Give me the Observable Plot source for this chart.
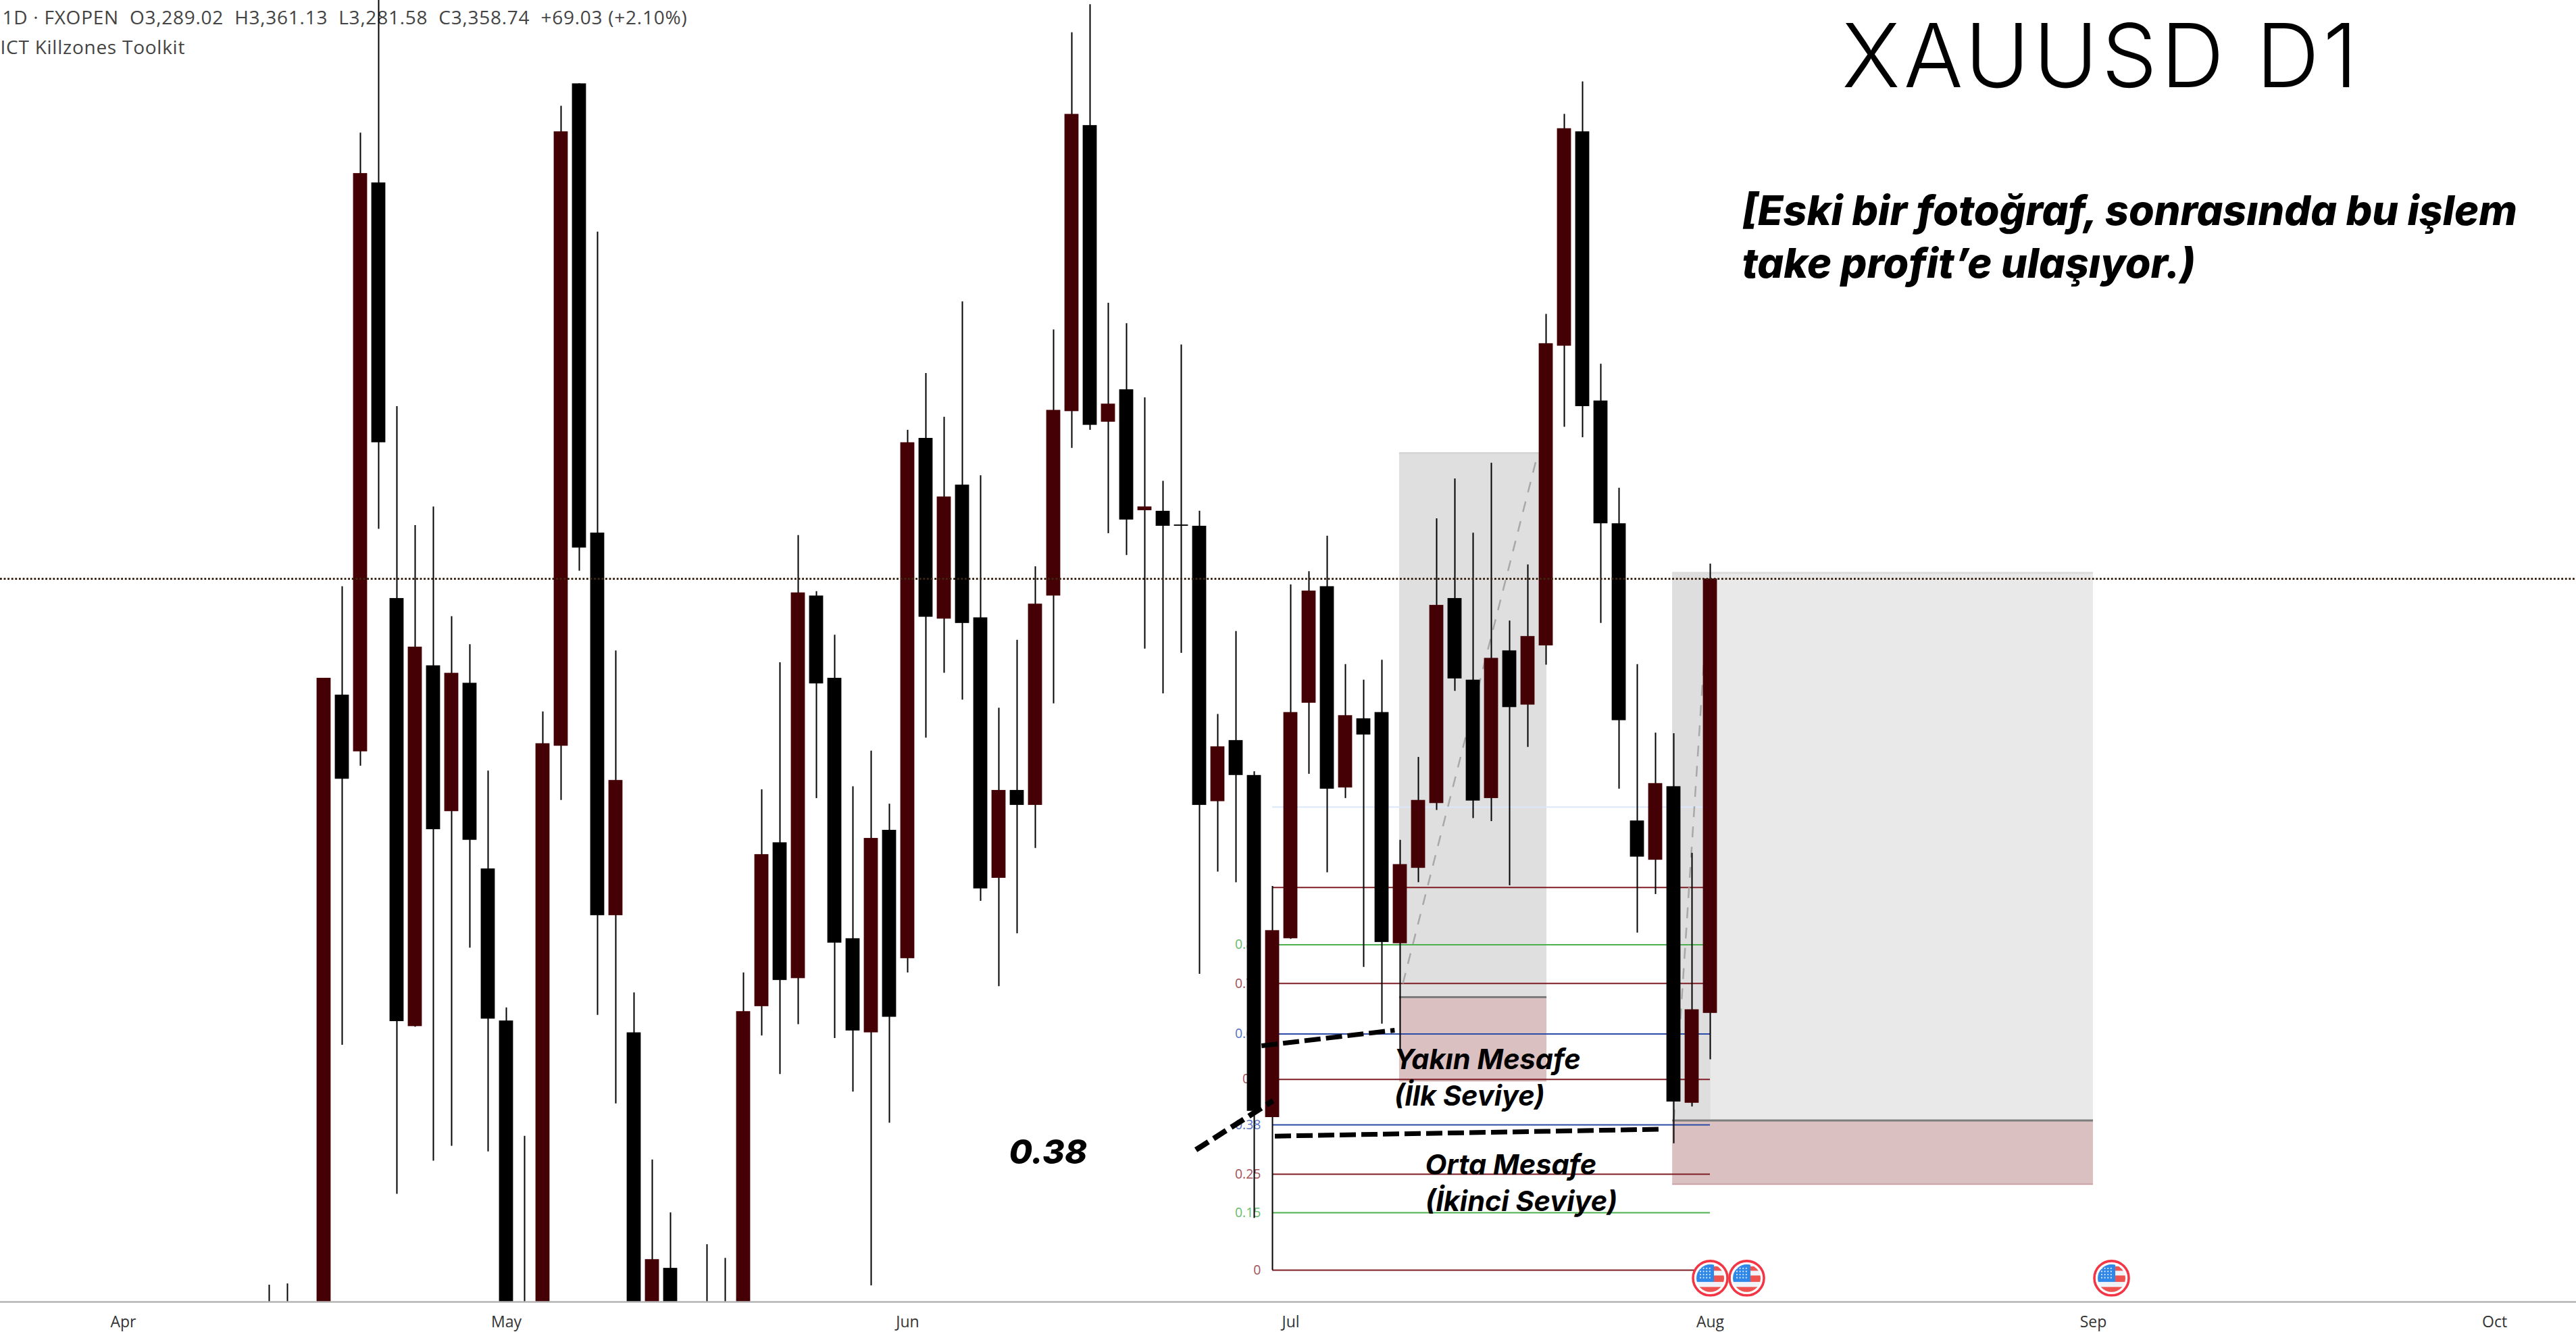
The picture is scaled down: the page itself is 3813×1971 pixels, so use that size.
<!DOCTYPE html>
<html>
<head>
<meta charset="utf-8">
<style>html,body{margin:0;padding:0;background:#fff;overflow:hidden}svg{display:block}
.head-text{letter-spacing:0.75px}.title-text{letter-spacing:5.5px}</style>
<script src="https://cdn.jsdelivr.net/npm/d3@7"></script>
<script src="https://cdn.jsdelivr.net/npm/@observablehq/plot@0.6"></script>
</head>
<body>
<div id="chart"></div>
<script>
// Trading-day number counted from 1 April (weekends and closed days do not take a slot)
const days = [8,9,11,12,13,14,15,16,17,18,19,20,21,22,23,24,25,26,27,28,29,30,32,33,34,35,36,37,38,39,40,41,42,43,44,45,46,47,48,49,50,51,52,53,54,55,56,57,58,59,60,61,62,63,64,65,66,67,68,69,70,71,72,73,74,75,76,77,78,79,80,81,82,83,84,85,86,87];
const open = [3240,3238,3235,3340.1,3331.0,3422.3,3355.6,3286.9,3344.8,3321.4,3342.0,3312.2,3287.8,3241,3238,3331.9,3438.2,3366.1,3304.7,3285.9,3240,3248.1,3241,3241,3240,3290.1,3316.4,3294.6,3356.0,3342.8,3301.0,3285.9,3318.4,3297.8,3381.3,3352.3,3373.8,3352.5,3310.7,3324.8,3322.4,3356.0,3385.6,3431.5,3383.9,3389.1,3369.7,3369.6,3367.4,3367.2,3323.0,3332.8,3327.2,3272.3,3301.0,3338.8,3357.5,3325.2,3336.3,3337.3,3300.2,3312.3,3322.7,3355.6,3342.5,3323.5,3347.2,3338.5,3348.0,3396.1,3430.5,3387.3,3367.6,3319.9,3313.6,3325.4,3274.6,3289.02];
const high = [3245.4,3245.6,3342.8,3357.5,3430.3,3456,3386.4,3367.3,3370.3,3352.7,3348.2,3327.9,3289.9,3269.3,3337.4,3434.6,3438.2,3414.4,3347.2,3292.3,3265.5,3257.0,3251.9,3249.7,3295.5,3324.9,3345.3,3365.7,3356.7,3349.7,3325.4,3331.1,3322.6,3382.6,3391.7,3384.7,3403.2,3375.3,3338.0,3348.9,3360.7,3398.7,3446.4,3450.9,3403.0,3399.7,3387.8,3374.4,3396.3,3369.6,3337.0,3350.3,3327.8,3309.4,3357.8,3359.9,3365.6,3345.0,3342.5,3345.7,3316.8,3330.1,3368.4,3374.8,3366.1,3377.3,3352.0,3361.0,3401.2,3433.3,3438.5,3393.2,3373.3,3345.0,3334.0,3333.9,3314.7,3361.13];
const low = [3230,3230,3230,3283.9,3328.7,3366.7,3260.0,3286.8,3265.3,3267.7,3299.5,3266.8,3236,3236,3235,3323.2,3360.0,3288.7,3274.5,3236,3237,3234,3237,3237,3236,3285.4,3279.2,3287.2,3323.5,3285.0,3276.4,3245.3,3271.4,3295.5,3333.2,3343.6,3339.3,3307.0,3293.3,3301.8,3315.5,3338.7,3379.7,3382.6,3366.0,3362.5,3347.5,3340.3,3346.8,3295.3,3311.7,3310.0,3256.1,3247.8,3300.9,3327.4,3311.6,3323.5,3296.4,3287.3,3283.1,3310.0,3321.6,3340.7,3320.3,3319.8,3309.5,3331.7,3344.9,3383.1,3381.4,3351.6,3325.0,3301.9,3308.1,3268.1,3274.0,3281.58];
const close = [3235,3234,3342.8,3326.6,3423.8,3380.6,3287.7,3347.8,3318.5,3343.6,3316.8,3288.1,3240,3239,3332.3,3430.5,3363.7,3304.7,3326.4,3240,3249.5,3238,3239,3239,3289.3,3314.5,3294.3,3356.5,3341.9,3300.3,3286.2,3317.1,3288.4,3380.6,3352.6,3371.9,3351.6,3309.0,3324.8,3322.4,3354.7,3385.8,3433.3,3383.4,3386.8,3368.2,3370.3,3367.2,3367.2,3322.4,3331.8,3327.2,3273.3,3302.3,3337.3,3356.8,3325.0,3336.8,3333.7,3300.4,3312.9,3323.2,3354.5,3342.7,3323.1,3346.0,3338.1,3349.5,3396.5,3431.0,3386.4,3367.6,3336.0,3314.1,3325.9,3274.8,3289.6,3358.74];

const monthDays = [0,21,43,64,87,108,130];
const monthNames = ["Apr","May","Jun","Jul","Aug","Sep","Oct"];

const fibRatios = ["0","0.15","0.25","0.38","0.5","0.62","0.75","0.85","1"];
const fibPrices = [3247.8,3257.0,3263.2,3271.1,3278.4,3285.7,3293.8,3300.0,3309.2];
const fibKinds  = ["r","g","r","b","r","b","r","g","r"];

const lastPrice = 3358.74;
const eventDays = [87,89,109];

const candles = days.map((d,k)=>({d,open:open[k],high:high[k],low:low[k],close:close[k]}));
const fib = fibRatios.map((t,k)=>({t,p:fibPrices[k],k:fibKinds[k]}));
const fibColor = {r:"#7e1c24",g:"#4caf50",b:"#2b4ca6"};
const fibText  = {r:"#a3525a",g:"#69bd6d",b:"#5574c4"};

const w = 0.385;
const seg = (d1,p1,d2,p2)=>[{d:d1,p:p1},{d:d2,p:p2}];
const thick1 = seg(62.4,3283.8,69.7,3286.3);
const thick2 = seg(58.8,3267.1,63.04,3275.0);
const thick3 = seg(63.13,3269.3,84.2,3270.4);
const thin1 = seg(70.15,3293.8,77.5,3378.3);
const thin2 = seg(85,3271.8,86.96,3359.1);

const boxes = [
  {x1:69.96,x2:78.04,y1:3291.6,y2:3378.9,f:"#dfdfdf"},
  {x1:69.96,x2:78.04,y1:3278.0,y2:3291.6,f:"#dac0c1"},
  {x1:84.93,x2:108,y1:3271.8,y2:3359.7,f:"#e9e9e9"},
  {x1:84.93,x2:87.03,y1:3271.8,y2:3359.7,f:"#dedede"},
  {x1:84.93,x2:108,y1:3261.6,y2:3271.8,f:"#dac0c1"}
];
const boxMids = [
  {x1:69.96,x2:78.04,p:3291.6,c:"#7d7d7d",s:3},
  {x1:84.93,x2:108,p:3271.8,c:"#7d7d7d",s:3},
  {x1:84.93,x2:108,p:3261.6,c:"#c79fa2",s:2},
  {x1:84.93,x2:108,p:3359.7,c:"#dcdcdc",s:3},
  {x1:69.96,x2:78.04,p:3378.9,c:"#d6d6d6",s:3}
];

const flagDots = [];
for (let a=0;a<4;a++) for (let b=0;b<4;b++) flagDots.push(`<circle cx="${13+a*4.6}" cy="${13+b*4.6}" r="1.1" fill="#dfeafc"/>`);
const flagSvg = `<svg xmlns="http://www.w3.org/2000/svg" width="55" height="55" viewBox="0 0 55 55">
<defs><clipPath id="c"><circle cx="27.5" cy="27.5" r="20.5"/></clipPath></defs>
<circle cx="27.5" cy="27.5" r="25.5" fill="#fff" stroke="#f23645" stroke-width="3.6"/>
<g clip-path="url(#c)"><rect width="55" height="55" fill="#f0f3fa"/>
<rect x="7" y="7" width="26" height="26" fill="#2f88e8"/>
<rect x="33" y="10" width="16" height="6.5" fill="#ef5350"/>
<rect x="33" y="23.5" width="16" height="9.5" fill="#ef5350"/>
<rect x="7" y="40.5" width="41" height="8" fill="#ef5350"/></g>${flagDots.join("")}</svg>`;
const flagSrc = "data:image/svg+xml," + encodeURIComponent(flagSvg);

const INTER = "Inter, 'Open Sans', sans-serif";
const txt = (s,x,y,o)=>Plot.text([s],Object.assign({text:d=>d,frameAnchor:"top-left",dx:x,dy:y,lineAnchor:"bottom",textAnchor:"start",fill:"#000"},o));
const noteStyle = {fontFamily:INTER,fontWeight:700,fontStyle:"italic",fontSize:41.5};
const headStyle = {fontSize:28,fill:"#444",fontFamily:"'Open Sans', sans-serif",className:"head-text"};
const sideStyle = {fontFamily:INTER,fontWeight:800,fontStyle:"italic",fontSize:61};

const chart = Plot.plot({
  width:3813,height:1971,
  marginTop:0,marginRight:0,marginBottom:45,marginLeft:0,
  style:{background:"#fff",fontFamily:"'Open Sans', sans-serif"},
  x:{type:"linear",domain:[-6.74,134.48],range:[0,3813]},
  y:{type:"linear",domain:[3242.69,3451.58],range:[1926,0],axis:null},
  marks:[
    txt("1D · FXOPEN\u00a0\u00a0O3,289.02\u00a0\u00a0H3,361.13\u00a0\u00a0L3,281.58\u00a0\u00a0C3,358.74\u00a0\u00a0+69.03 (+2.10%)",3,35,headStyle),
    txt("ICT Killzones Toolkit",0,79,headStyle),

    Plot.rect(boxes,{x1:"x1",x2:"x2",y1:"y1",y2:"y2",fill:"f"}),
    Plot.ruleY(boxMids,{x1:"x1",x2:"x2",y:"p",stroke:"c",strokeWidth:"s"}),

    Plot.ruleY([3322.1],{x1:63,x2:87,stroke:"#dbe7fa",strokeWidth:2}),
    Plot.ruleY(fib,{x1:63,x2:87,y:"p",stroke:d=>fibColor[d.k],strokeWidth:2}),
    Plot.text(fib.filter(d=>d.t!=="1"),{x:63,y:"p",text:"t",fill:d=>fibText[d.k],fontSize:19.5,textAnchor:"end",dx:-17,fontFamily:"'Open Sans', sans-serif"}),

    Plot.line(thin1,{x:"d",y:"p",stroke:"#a8a8a8",strokeWidth:2.5,strokeDasharray:"16 14",strokeLinecap:"butt"}),
    Plot.line(thin2,{x:"d",y:"p",stroke:"#a8a8a8",strokeWidth:2.5,strokeDasharray:"16 14",strokeLinecap:"butt"}),

    Plot.ruleX(candles,{x:"d",y1:"low",y2:"high",stroke:"#000",strokeWidth:2,clip:true}),
    Plot.rect(candles,{x1:d=>d.d-w,x2:d=>d.d+w,y1:"open",y2:"close",
      fill:d=>d.close>d.open?"#450006":"#000",clip:true}),

    Plot.ruleY([lastPrice],{stroke:"#3d2410",strokeWidth:3,strokeDasharray:"2.8 2.8"}),

    Plot.line(thick1,{x:"d",y:"p",stroke:"#000",strokeWidth:7,strokeDasharray:"24 8",strokeLinecap:"butt"}),
    Plot.line(thick2,{x:"d",y:"p",stroke:"#000",strokeWidth:8,strokeDasharray:"22 9",strokeLinecap:"butt"}),
    Plot.line(thick3,{x:"d",y:"p",stroke:"#000",strokeWidth:7,strokeDasharray:"24 8",strokeLinecap:"butt"}),

    txt("XAUUSD D1",2726,128,{fontFamily:INTER,fontWeight:300,fontSize:130,className:"title-text"}),
    txt("[Eski bir fotoğraf, sonrasında bu işlem",2578,332,sideStyle),
    txt("take profit’e ulaşıyor.)",2578,410,sideStyle),
    txt("Yakın Mesafe",2063,1581,noteStyle),
    txt("(İlk Seviye)",2063,1635,noteStyle),
    txt("Orta Mesafe",2109,1737,noteStyle),
    txt("(İkinci Seviye)",2109,1791,noteStyle),
    txt("0.38",1493,1721,{fontFamily:INTER,fontWeight:800,fontStyle:"italic",fontSize:50}),

    Plot.image(eventDays,{x:d=>d,y:()=>3246.5,src:()=>flagSrc,width:55,height:55}),

    Plot.ruleY([3242.69],{stroke:"#b4b4b4",strokeWidth:2.5}),
    Plot.axisX({anchor:"bottom",ticks:monthDays,tickSize:0,tickPadding:21,fontSize:23,fill:"#333",
      tickFormat:d=>monthNames[monthDays.indexOf(d)],label:null,fontFamily:"'Open Sans', sans-serif"})
  ]
});
document.getElementById("chart").appendChild(chart);
</script>
</body>
</html>
